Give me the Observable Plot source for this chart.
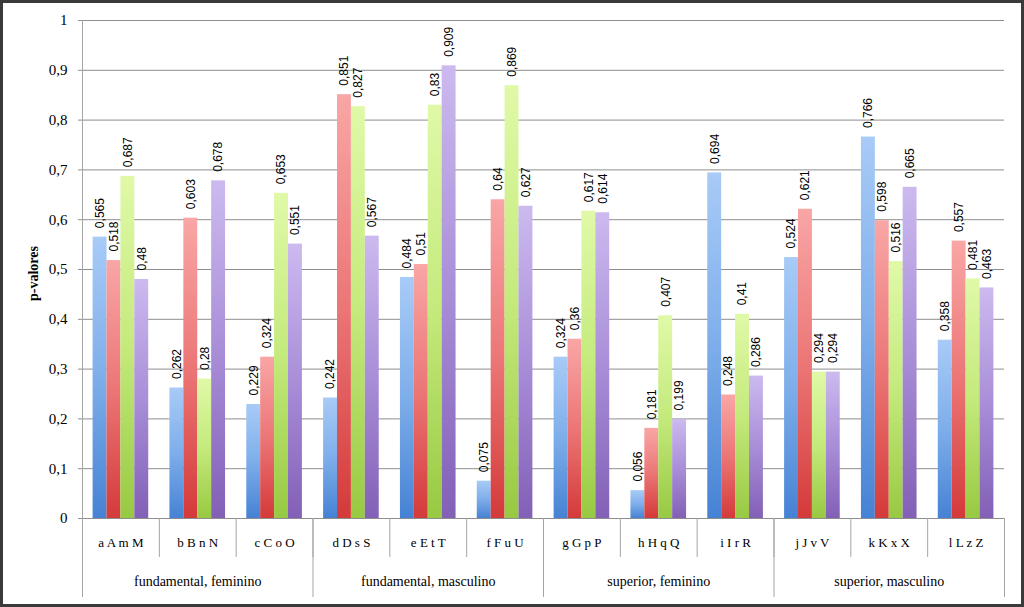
<!DOCTYPE html>
<html>
<head>
<meta charset="utf-8">
<script src="https://cdn.jsdelivr.net/npm/d3@7"></script>
<script src="https://cdn.jsdelivr.net/npm/@observablehq/plot@0.6"></script>
<style>
  html, body { margin: 0; padding: 0; background: #fff; overflow: hidden; }
</style>
</head>
<body>
<div id="chart"></div>
<script>
// ---- Data ----
const groups = ["a A m M", "b B n N", "c C o O", "d D s S", "e E t T", "f F u U",
                "g G p P", "h H q Q", "i I r R", "j J v V", "k K x X", "l L z Z"];
const outerGroups = ["fundamental, feminino", "fundamental, masculino", "superior, feminino", "superior, masculino"];
const blueValues   = [0.565, 0.262, 0.229, 0.242, 0.484, 0.075, 0.324, 0.056, 0.694, 0.524, 0.766, 0.358];
const redValues    = [0.518, 0.603, 0.324, 0.851, 0.51, 0.64, 0.36, 0.181, 0.248, 0.621, 0.598, 0.557];
const greenValues  = [0.687, 0.28, 0.653, 0.827, 0.83, 0.869, 0.617, 0.407, 0.41, 0.294, 0.516, 0.481];
const purpleValues = [0.48, 0.678, 0.551, 0.567, 0.909, 0.627, 0.614, 0.199, 0.286, 0.294, 0.665, 0.463];
const yTicks = [0, 0.1, 0.2, 0.3, 0.4, 0.5, 0.6, 0.7, 0.8, 0.9, 1];
const yLabel = "p-valores";

// ---- Styling ----
const seriesValues = [blueValues, redValues, greenValues, purpleValues];
const gradIds = ["gBlue", "gRed", "gGreen", "gPurple"];
const gradStops = [
  ["#a8cbf7", "#7eaeea", "#4682d4"],
  ["#f9a6a6", "#ec7676", "#d43a3a"],
  ["#e0f9a8", "#c4ea7c", "#98c942"],
  ["#ccbaef", "#a98ed8", "#8260b6"]
];
const W = 1024, H = 607, ML = 82, MR = 20, MT = 20, MB = 89;
const frameH = H - MT - MB;
const OUTER = 0.138, BAR = 0.181;
const fmt = v => String(v).replace(".", ",");

const rows = [];
groups.forEach((g, i) => seriesValues.forEach((vals, s) => rows.push({g, i, s, v: vals[i]})));

const marks = [
  Plot.ruleY(yTicks, {y: d => d, stroke: "#8e8e8e", insetLeft: -4}),
  Plot.ruleX([0], {stroke: "#a4a4a4"}),
  Plot.axisX({ticks: d3.range(0, 13), tickSize: 39, tickFormat: () => "", label: null, stroke: "#a4a4a4"}),
  Plot.axisX({ticks: [0, 3, 6, 9, 12], tickSize: 79, tickFormat: () => "", label: null, stroke: "#a4a4a4"}),
  ...seriesValues.map((vals, s) => Plot.rectY(rows.filter(r => r.s === s), {
    x1: r => r.i + OUTER + s * BAR,
    x2: r => r.i + OUTER + (s + 1) * BAR,
    y1: 0, y2: "v",
    fill: `url(#${gradIds[s]})`
  })),
  Plot.text(rows, {
    x: r => r.i + OUTER + (r.s + 0.5) * BAR, y: "v", text: r => fmt(r.v),
    rotate: -90, textAnchor: "start", lineAnchor: "middle", dy: -9,
    fontFamily: "Liberation Sans", fontSize: 12, fill: "#000"
  }),
  Plot.text(yTicks, {
    y: d => d, text: d => fmt(d), frameAnchor: "left", textAnchor: "end", dx: -15,
    lineAnchor: "middle", fontFamily: "Liberation Serif", fontSize: 15, fill: "#000"
  }),
  Plot.text([yLabel], {
    text: d => d, frameAnchor: "left", dx: -49, dy: 4, rotate: -90, textAnchor: "middle",
    lineAnchor: "middle", fontFamily: "Liberation Serif", fontWeight: "bold", fontSize: 14, fill: "#000"
  }),
  Plot.text(groups, {
    x: (d, i) => i + 0.5, text: d => d, frameAnchor: "bottom", dy: 24, lineAnchor: "middle",
    fontFamily: "Liberation Serif", fontSize: 13, fill: "#000"
  }),
  Plot.text(outerGroups, {
    x: (d, i) => i * 3 + 1.5, text: d => d, frameAnchor: "bottom", dy: 63, lineAnchor: "middle",
    fontFamily: "Liberation Serif", fontSize: 14, fill: "#000"
  })
];

const chart = Plot.plot({
  width: W, height: H,
  marginLeft: ML, marginRight: MR, marginTop: MT, marginBottom: MB,
  x: {type: "linear", domain: [0, 12], axis: null},
  y: {type: "linear", domain: [0, 1], axis: null},
  marks
});

const defs = d3.select(chart).insert("defs", ":first-child");
gradIds.forEach((id, s) => {
  const lg = defs.append("linearGradient").attr("id", id)
    .attr("x1", 0).attr("y1", 0).attr("x2", 0).attr("y2", 1);
  gradStops[s].forEach((c, k, arr) => lg.append("stop")
    .attr("offset", k / (arr.length - 1)).attr("stop-color", c));
});

chart.style.outline = "3px solid #3a3a3a";
chart.style.outlineOffset = "-3px";
chart.style.maxWidth = "none";
document.getElementById("chart").appendChild(chart);
</script>
</body>
</html>
